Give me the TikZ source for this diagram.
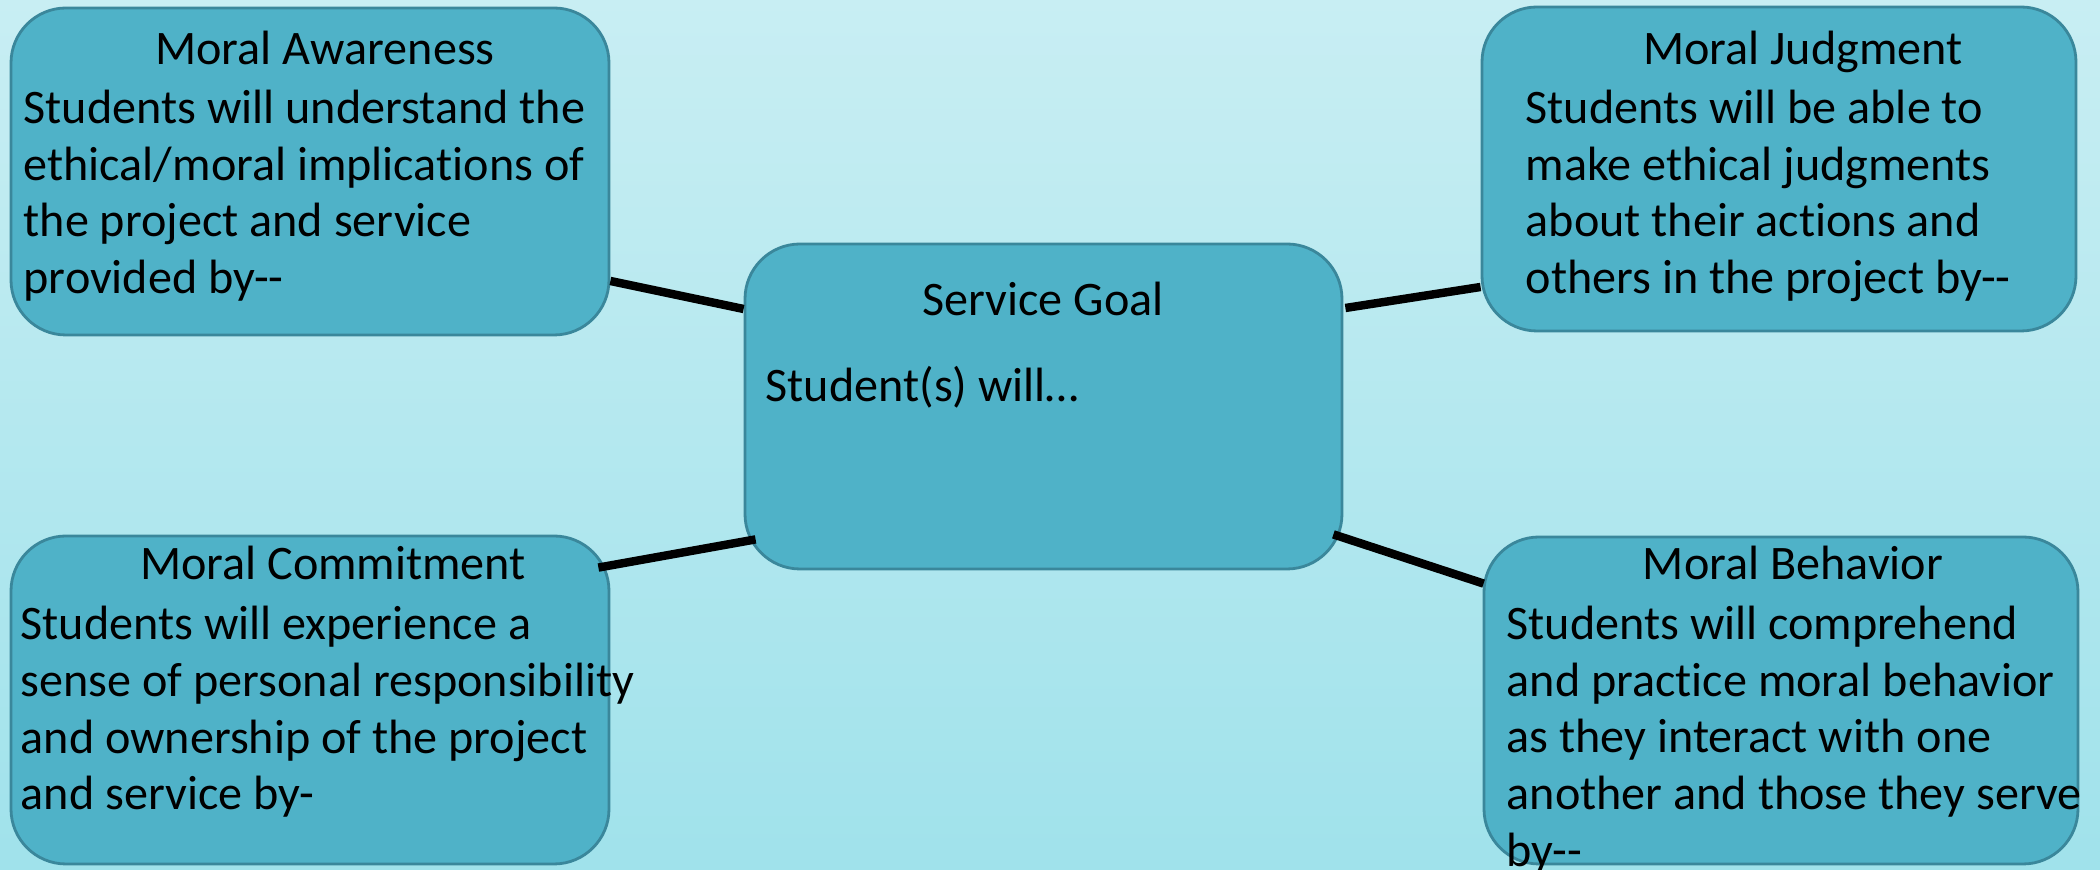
\documentclass[tikz,border=0pt]{standalone}
\usepackage{fontspec}
\setmainfont{Carlito}[Ligatures={NoCommon,NoContextual},RawFeature={-calt}]
\usetikzlibrary{positioning}
\definecolor{boxfill}{RGB}{79,178,200}
\definecolor{boxline}{RGB}{58,135,155}
\definecolor{bgtop}{RGB}{200,238,243}
\definecolor{bgbot}{RGB}{160,226,235}
\newcommand{\txtsize}{\fontsize{13.7}{16.2}\selectfont}

\begin{document}
\begin{tikzpicture}[
  box/.style={draw=boxline, fill=boxfill, line width=0.8pt, rounded corners=0.55cm, inner sep=0pt},
  title/.style={font=\txtsize, inner sep=0pt, anchor=base},
  body/.style={font=\txtsize, align=left, inner sep=0pt, anchor=north west},
  link/.style={line width=2.4pt, black}]
% background
\shade[top color=bgtop, bottom color=bgbot] (0,0) rectangle (21,-8.7);
\useasboundingbox (0,0) rectangle (21,-8.7);

% boxes
\node[box, minimum width=5.98cm, minimum height=3.27cm] (aw) at (3.10,-1.715) {};
\node[box, minimum width=5.94cm, minimum height=3.24cm] (ju) at (17.79,-1.69) {};
\node[box, minimum width=5.97cm, minimum height=3.25cm] (goal) at (10.435,-4.065) {};
\node[box, minimum width=5.98cm, minimum height=3.28cm] (com) at (3.10,-7.00) {};
\node[box, minimum width=5.94cm, minimum height=3.27cm] (beh) at (17.81,-7.005) {};

% texts
\node[title] (awt) at (3.25,-0.65) {Moral Awareness};
\node[body] (awb) at (0.23,-0.89) {Students will understand the\\ethical/moral implications of\\the project and service\\provided by-{}-};
\node[title] (jut) at (18.03,-0.65) {Moral Judgment};
\node[body] (jub) at (15.25,-0.89) {Students will be able to\\make ethical judgments\\about their actions and\\others in the project by-{}-};
\node[title] (goalt) at (10.43,-3.16) {Service Goal};
\node[font=\txtsize, inner sep=0pt, anchor=base west] (goalb) at (7.65,-4.02) {Student(s) will…};
\node[title] (comt) at (3.33,-5.80) {Moral Commitment};
\node[body] (comb) at (0.20,-6.05) {Students will experience a\\sense of personal responsibility\\and ownership of the project\\and service by-};
\node[title] (beht) at (17.93,-5.80) {Moral Behavior};
\node[body] (behb) at (15.06,-6.05) {Students will comprehend\\and practice moral behavior\\as they interact with one\\another and those they serve\\by-{}-};

% connectors
\draw[link] ([yshift=-1.095cm]aw.east) -- ([yshift=0.975cm]goal.west);
\draw[link] ([xshift=0.02cm,yshift=0.985cm]goal.east) -- ([yshift=-1.18cm]ju.west);
\draw[link] ([xshift=-0.12cm,yshift=-0.33cm]com.north east) -- ([xshift=0.12cm,yshift=0.31cm]goal.south west);
\draw[link] ([xshift=-0.1cm,yshift=0.36cm]goal.south east) -- ([xshift=0.01cm,yshift=-0.48cm]beh.north west);
\end{tikzpicture}
\end{document}
